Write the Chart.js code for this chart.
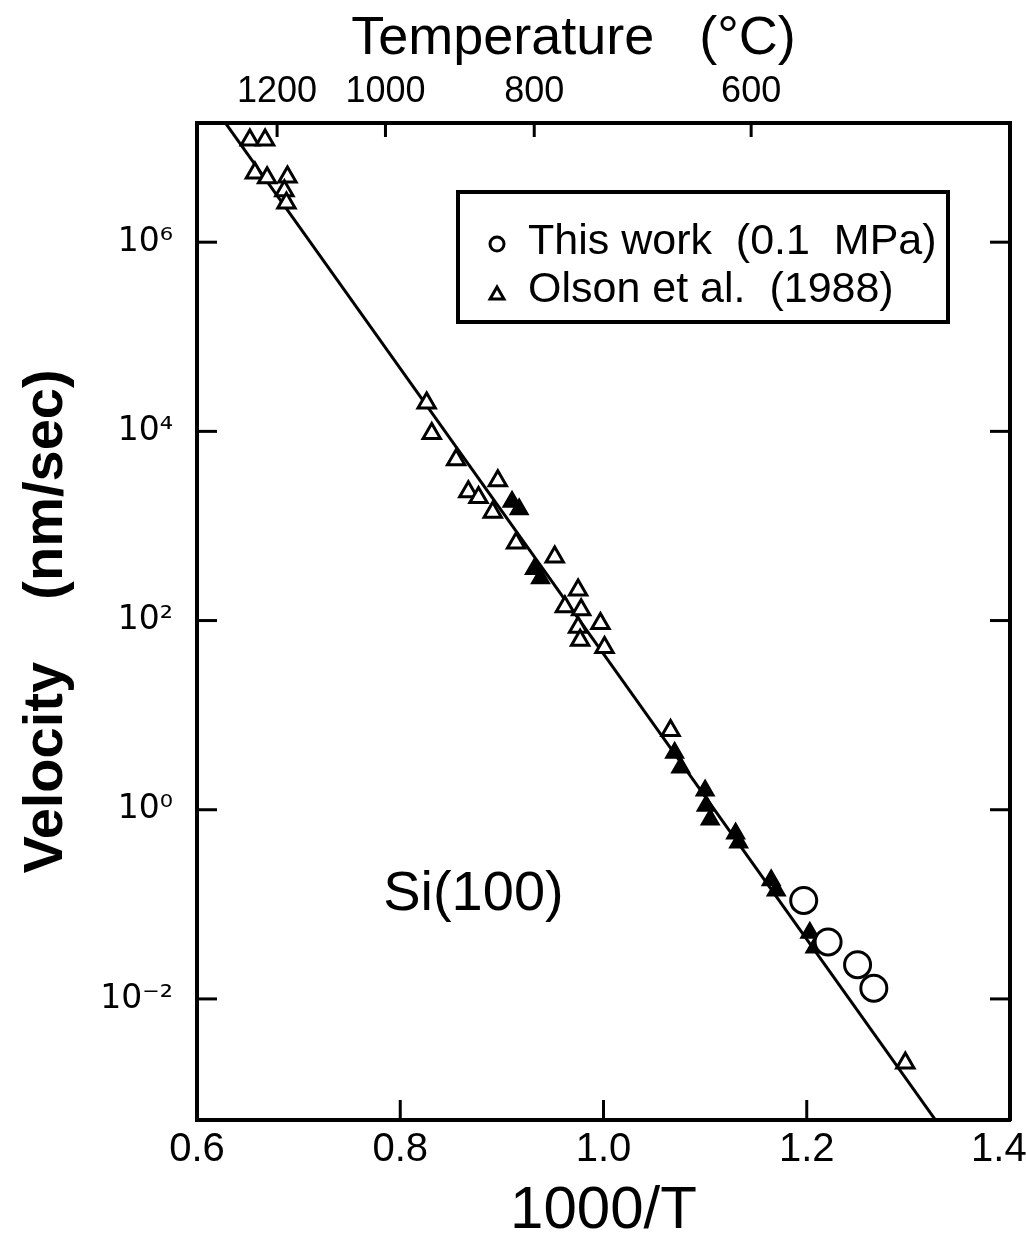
<!DOCTYPE html>
<html><head><meta charset="utf-8">
<script src="https://cdn.jsdelivr.net/npm/chart.js@4.4.1/dist/chart.umd.min.js"></script>
<style>html,body{margin:0;padding:0;background:#fff;}#wrap{width:1026px;height:1241px;}</style>
</head><body><div id="wrap"><canvas id="c" width="1026" height="1241"></canvas></div>
<script>
// ---- data ----
const seriesNames = ['This work  (0.1  MPa)', 'Olson et al.  (1988)'];
const thisWorkX = [1.197, 1.221, 1.250, 1.266];
const thisWorkV = [0.11, 0.040, 0.023, 0.013];
const olsonOpenX = [0.652, 0.667, 0.657, 0.669, 0.689, 0.686, 0.688,
  0.826, 0.831, 0.855, 0.896, 0.867, 0.877, 0.891, 0.914, 0.952, 0.975, 0.962, 0.978, 0.975, 0.977, 0.997, 1.001,
  1.066, 1.297];
const olsonOpenV = [1.2e7, 1.2e7, 5.4e6, 4.8e6, 4.9e6, 3.5e6, 2.6e6,
  2.0e4, 9.5e3, 5.0e3, 3.0e3, 2.3e3, 2.0e3, 1.4e3, 660, 470, 210, 140, 130, 85, 62, 93, 52,
  6.9, 2.1e-3];
const olsonFilledX = [0.910, 0.917, 0.932, 0.938, 1.070, 1.076, 1.100, 1.101, 1.105, 1.130, 1.133, 1.165, 1.170, 1.203, 1.208];
const olsonFilledV = [1.8e3, 1.5e3, 350, 280, 4.0, 2.8, 1.6, 1.1, 0.79, 0.56, 0.45, 0.18, 0.14, 0.050, 0.035];
const fitX = [0.62, 1.34];
const fitV = [2.4e7, 3.3e-4];
const bottomTicks = [0.6, 0.8, 1.0, 1.2, 1.4];
const tempTicksC = [1200, 1000, 800, 600];
const yTickValues = [1e-2, 1, 1e2, 1e4, 1e6];
const yTickLabels = ['10\u207B\u00B2', '10\u2070', '10\u00B2', '10\u2074', '10\u2076'];
const annotationText = 'Si(100)';
const annotationAt = {x: 0.872, y: 0.126};

// ---- chart ----
const FONT = "'Liberation Sans', Arial, Helvetica, sans-serif";
const WIDE = "'DejaVu Sans', 'Liberation Sans', sans-serif";
const pts = (xs, vs) => xs.map((x, i) => ({x: x, y: vs[i]}));
const fixW = w => s => { s.width = w; s.paddingTop = 0; s.paddingBottom = 0; };
const fixH = h => s => { s.height = h; s.paddingLeft = 0; s.paddingRight = 0; };
const border = {display: true, color: '#000', width: 4};
const noGrid = {display: false, drawTicks: false};

const inwardTicks = {
  id: 'inwardTicks',
  afterDraw(chart) {
    const {ctx, chartArea: a, scales} = chart;
    ctx.save(); ctx.strokeStyle = '#000'; ctx.lineWidth = 3;
    const line = (x1, y1, x2, y2) => { ctx.beginPath(); ctx.moveTo(x1, y1); ctx.lineTo(x2, y2); ctx.stroke(); };
    scales.x.ticks.forEach(t => { const p = scales.x.getPixelForValue(t.value); if (p > a.left + 4 && p < a.right - 4) line(p, a.bottom, p, a.bottom - 20); });
    scales.x2.ticks.forEach(t => { const p = scales.x2.getPixelForValue(t.value); if (p > a.left + 4 && p < a.right - 4) line(p, a.top, p, a.top + 14); });
    scales.y.ticks.forEach(t => { const p = scales.y.getPixelForValue(t.value); line(a.left, p, a.left + 20, p); });
    scales.y2.ticks.forEach(t => { const p = scales.y2.getPixelForValue(t.value); line(a.right, p, a.right - 20, p); });
    ctx.restore();
  }
};

const boxLegend = {
  id: 'boxLegend',
  afterDraw(chart) {
    const {ctx, chartArea: a} = chart;
    const bx = a.left + 261, by = a.top + 69, bw = 490, bh = 130;
    ctx.save();
    ctx.fillStyle = '#fff'; ctx.fillRect(bx, by, bw, bh);
    ctx.strokeStyle = '#000'; ctx.lineWidth = 4; ctx.strokeRect(bx, by, bw, bh);
    const items = [
      {ds: chart.data.datasets[0], y: by + 50, my: by + 52, r: 7},
      {ds: chart.data.datasets[1], y: by + 98, my: by + 103, r: 8}
    ];
    ctx.textBaseline = 'middle'; ctx.textAlign = 'left';
    items.forEach(it => {
      ctx.fillStyle = '#fff'; ctx.strokeStyle = '#000'; ctx.lineWidth = 3;
      Chart.helpers.drawPoint(ctx, {pointStyle: it.ds.pointStyle, radius: it.r, borderWidth: 3, rotation: 0}, bx + 39, it.my);
      ctx.fillStyle = '#000';
      ctx.font = '43px ' + FONT;
      ctx.fillText(it.ds.label, bx + 70, it.y);
    });
    // annotation
    const sx = chart.scales.x.getPixelForValue(annotationAt.x), sy = chart.scales.y.getPixelForValue(annotationAt.y);
    ctx.fillStyle = '#000';
    ctx.font = '56px ' + FONT; ctx.textAlign = 'center';
    ctx.fillText(annotationText, sx, sy);
    ctx.restore();
  }
};

new Chart(document.getElementById('c'), {
  type: 'scatter',
  data: {
    datasets: [
      {label: seriesNames[0], data: pts(thisWorkX, thisWorkV), pointStyle: 'circle', pointRadius: 13, pointBorderWidth: 3,
       pointBorderColor: '#000', pointBackgroundColor: '#fff', order: 1},
      {label: seriesNames[1], data: pts(olsonOpenX, olsonOpenV), pointStyle: 'triangle', pointRadius: 10, pointBorderWidth: 3,
       pointBorderColor: '#000', pointBackgroundColor: '#fff', order: 2},
      {label: seriesNames[1] + ' (filled)', data: pts(olsonFilledX, olsonFilledV), pointStyle: 'triangle', pointRadius: 10, pointBorderWidth: 2,
       pointBorderColor: '#000', pointBackgroundColor: '#000', order: 2},
      {label: 'fit', data: pts(fitX, fitV), showLine: true, pointRadius: 0, borderColor: '#000', borderWidth: 3, order: 5}
    ]
  },
  options: {
    responsive: false, animation: false, devicePixelRatio: 1,
    layout: {padding: 0},
    plugins: {legend: {display: false}, tooltip: {enabled: false}},
    scales: {
      x: {type: 'linear', position: 'bottom', min: 0.6, max: 1.4,
        afterBuildTicks: s => { s.ticks = bottomTicks.map(v => ({value: v})); },
        ticks: {callback: (v, i) => v.toFixed(1) + (i === bottomTicks.length - 1 ? '  ' : ''), font: {family: FONT, size: 40}, color: '#000', padding: 6, maxRotation: 0, autoSkip: false},
        grid: noGrid, border: border,
        title: {display: true, text: '1000/T', font: {family: FONT, size: 60, lineHeight: 1}, color: '#000', padding: {top: 0, bottom: 0}},
        afterFit: fixH(121)},
      x2: {type: 'linear', position: 'top', min: 0.6, max: 1.4,
        afterBuildTicks: s => { s.ticks = tempTicksC.map(t => ({value: 1000 / (t + 273.15)})); },
        ticks: {callback: (v, i) => String(tempTicksC[i]), font: {family: FONT, size: 36}, color: '#000', padding: 9, maxRotation: 0, autoSkip: false},
        grid: noGrid, border: border,
        title: {display: true, text: 'Temperature   (\u00B0C)    ', font: {family: FONT, size: 54, lineHeight: 1}, color: '#000', padding: {top: 12, bottom: 0}},
        afterFit: fixH(123)},
      y: {type: 'logarithmic', position: 'left', min: Math.pow(10, -3.28), max: Math.pow(10, 7.26),
        afterBuildTicks: s => { s.ticks = yTickValues.map(v => ({value: v})); },
        ticks: {callback: (v, i) => yTickLabels[i], font: {family: WIDE, size: 33}, color: '#000', padding: 24, autoSkip: false},
        grid: noGrid, border: border,
        title: {display: true, text: 'Velocity    (nm/sec)', font: {family: FONT, size: 56, weight: 'bold', lineHeight: 1}, color: '#000', padding: {top: 19, bottom: 0}},
        afterFit: fixW(197)},
      y2: {type: 'logarithmic', position: 'right', min: Math.pow(10, -3.28), max: Math.pow(10, 7.26),
        afterBuildTicks: s => { s.ticks = yTickValues.map(v => ({value: v})); },
        ticks: {display: false},
        grid: noGrid, border: border,
        afterFit: fixW(10)}
    }
  },
  plugins: [inwardTicks, boxLegend]
});
</script>
</body></html>
